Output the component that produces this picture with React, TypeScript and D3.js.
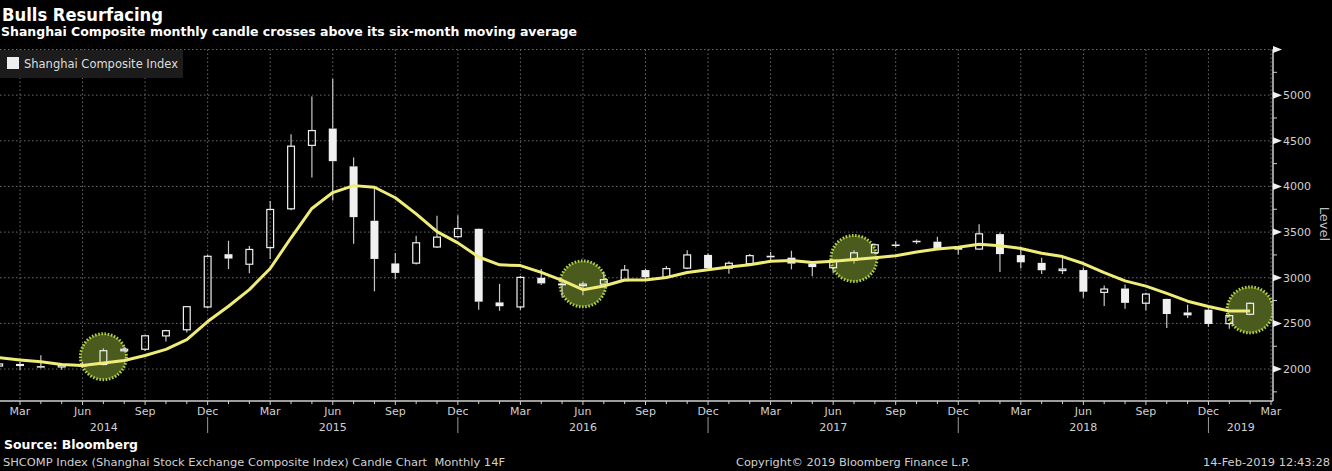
import React from "react";
import * as d3 from "d3";

// Monthly candles, Feb 2014 .. Feb 2019 (index 0 = Feb 2014)
const opens = [2033, 2056, 2032, 2023, 2040, 2050, 2200, 2217, 2363, 2430, 2680,
  3258, 3148, 3330, 3755, 4450, 4634, 4220, 3624, 3157, 3160, 3337, 3450,
  3536, 2730, 2680, 3000, 2937, 2915, 2930, 2968, 3084, 3005, 3105, 3250,
  3105, 3154, 3241, 3220, 3155, 3110, 3193, 3274, 3364, 3405, 3395, 3330,
  3314, 3478, 3248, 3163, 3081, 3084, 2840, 2882, 2721, 2768, 2620, 2650,
  2497, 2600];
const highs = [2070, 2077, 2150, 2061, 2078, 2229, 2248, 2369, 2430, 2683, 3250,
  3406, 3347, 3840, 4572, 4986, 5178, 4318, 4006, 3270, 3459, 3678, 3685,
  3539, 2933, 3018, 3097, 2954, 2960, 3060, 3140, 3100, 3128, 3301, 3265,
  3177, 3260, 3282, 3295, 3168, 3200, 3301, 3375, 3400, 3418, 3450, 3340,
  3587, 3495, 3310, 3220, 3219, 3111, 2915, 2925, 2835, 2771, 2703, 2667,
  2600, 2730];
const lows = [2026, 1990, 2010, 1991, 2010, 2042, 2195, 2197, 2302, 2400, 2667,
  3095, 3050, 3205, 3740, 4099, 3847, 3373, 2851, 2983, 3145, 3327, 3437,
  2650, 2638, 2650, 2920, 2781, 2808, 2923, 2965, 2980, 3000, 3093, 3085,
  3044, 3129, 3193, 3092, 3016, 3050, 3155, 3260, 3330, 3370, 3310, 3254,
  3310, 3062, 3100, 3041, 3041, 2782, 2691, 2660, 2644, 2449, 2560, 2463,
  2440, 2590];
const closes = [2056, 2033, 2026, 2039, 2048, 2201, 2217, 2364, 2420, 2683, 3235,
  3210, 3310, 3748, 4441, 4612, 4277, 3664, 3206, 3053, 3383, 3445, 3539,
  2738, 2688, 3004, 2938, 2917, 2930, 2979, 3085, 3005, 3100, 3250, 3104,
  3159, 3242, 3223, 3155, 3117, 3192, 3273, 3361, 3349, 3393, 3317, 3307,
  3481, 3259, 3169, 3082, 3095, 2847, 2876, 2725, 2821, 2603, 2588, 2494,
  2585, 2720];
// six-month moving average of closes
const movingAvg = [2124, 2100, 2081, 2051, 2039, 2067, 2094, 2149, 2215, 2322, 2520,
  2688, 2870, 3101, 3438, 3759, 3933, 4009, 3991, 3876, 3699, 3505, 3382,
  3227, 3141, 3133, 3059, 2971, 2869, 2909, 2976, 2976, 3003, 3058, 3087,
  3117, 3143, 3180, 3189, 3167, 3181, 3200, 3220, 3241, 3281, 3314, 3333,
  3368, 3351, 3321, 3269, 3232, 3156, 3055, 2966, 2908, 2828, 2743, 2685,
  2636, 2635];
// highlighted crossings: month index and level of circle centre
const crossIdx = [5, 28, 41, 60];
const crossLevel = [2135, 2933, 3211, 2648];

const monthNames = ["Jan", "Feb", "Mar", "Apr", "May", "Jun", "Jul", "Aug", "Sep", "Oct", "Nov", "Dec"];
const yearLabels = ["2014", "2015", "2016", "2017", "2018", "2019"];
const yMajor = [2000, 2500, 3000, 3500, 4000, 4500, 5000, 5500];
const yLabels = [2000, 2500, 3000, 3500, 4000, 4500, 5000];
const yMinor = [1750, 2250, 2750, 3250, 3750, 4250, 4750, 5250];

const W = 1332;
const H = 471;
const PL = 0, PR = 1273, PT = 49.5, PB = 401;
const FONT = "'DejaVu Sans', sans-serif";

export default function App() {
  const x = d3.scaleLinear().domain([0, 61]).range([-0.85, 1271]);
  const y = d3.scaleLinear().domain([1650, 5500]).range([PB, PT]);
  const nMonths = 62;
  const monthIdx = d3.range(nMonths);
  const monthOf = (i: number) => (1 + i) % 12;
  const quarterIdx = monthIdx.filter((i) => [2, 5, 8, 11].includes(monthOf(i)));
  const decIdx = monthIdx.filter((i) => monthOf(i) === 11 && i < 61);
  const bounds = [PL, ...decIdx.map((i) => x(i)), PR];

  const line = d3
    .line<number>()
    .x((_, i) => x(i))
    .y((d) => y(d));

  const bw = 8;
  const grid = "#6a6a6a";

  return (
    <div style={{ position: "fixed", left: 0, top: 0, width: W, height: H, background: "#000" }}>
      <svg width={W} height={H} style={{ display: "block" }}>
        <rect x={0} y={0} width={W} height={H} fill="#000" />
        <defs>
          <clipPath id="plot">
            <rect x={PL} y={PT - 10} width={PR - PL} height={PB - PT + 10} />
          </clipPath>
        </defs>

        {/* Title */}
        <text x={2} y={21} fill="#fff" fontFamily={FONT} fontWeight="bold" fontSize={17} textLength={161} lengthAdjust="spacingAndGlyphs">
          Bulls Resurfacing
        </text>
        <text x={1} y={36} fill="#fff" fontFamily={FONT} fontWeight="bold" fontSize={12} textLength={576} lengthAdjust="spacingAndGlyphs">
          Shanghai Composite monthly candle crosses above its six-month moving average
        </text>

        {/* Grid */}
        {yMajor.map((v) => (
          <line key={"hg" + v} x1={PL} x2={PR} y1={y(v)} y2={y(v)} stroke={grid} strokeDasharray="1.5 2.5" />
        ))}
        {quarterIdx.map((i) => (
          <line key={"vg" + i} x1={x(i)} x2={x(i)} y1={PT} y2={PB} stroke={grid} strokeDasharray="1.5 2.5" />
        ))}

        {/* Legend */}
        <rect x={0} y={50} width={183} height={28} fill="#1e1e1e" opacity={0.92} />
        <rect x={7} y={57} width={12} height={12} fill="#eee" />
        <text x={24} y={68} fill="#ddd" fontFamily={FONT} fontSize={12} textLength={154} lengthAdjust="spacingAndGlyphs">
          Shanghai Composite Index
        </text>

        <g clipPath="url(#plot)">
          {/* Crossing circles */}
          {crossIdx.map((ci, k) => (
            <circle key={"c" + k} cx={x(ci)} cy={y(crossLevel[k])} r={23} fill="#4a5b1d" stroke="#b0cf45" strokeWidth={3} strokeDasharray="1.6 1.6" />
          ))}

          {/* Candles */}
          {opens.map((o, i) => {
            const c = closes[i];
            const up = c >= o;
            const top = y(Math.max(o, c));
            const bot = y(Math.min(o, c));
            const cx = x(i);
            const h = Math.max(bot - top, 1.5);
            return (
              <g key={"k" + i}>
                <line x1={cx} x2={cx} y1={y(highs[i])} y2={top} stroke="#c8c8c8" strokeWidth={1.2} />
                <line x1={cx} x2={cx} y1={top + h} y2={y(lows[i])} stroke="#c8c8c8" strokeWidth={1.2} />
                {up ? (
                  <rect x={cx - bw / 2 + 0.6} y={top} width={bw - 1.2} height={h} fill="none" stroke="#f0f0f0" strokeWidth={1.2} />
                ) : (
                  <rect x={cx - bw / 2} y={top} width={bw} height={h} fill="#f0f0f0" />
                )}
              </g>
            );
          })}

          {/* Moving average */}
          <path d={line(movingAvg) || ""} fill="none" stroke="#f0ec78" strokeWidth={3} strokeLinejoin="round" />
        </g>

        {/* X axis */}
        <line x1={PL} x2={PR} y1={PB} y2={PB} stroke="#d0d0d0" strokeWidth={1.5} />
        {monthIdx.map((i) => (
          <line key={"xt" + i} x1={x(i)} x2={x(i)} y1={PB} y2={PB + (quarterIdx.includes(i) ? 4 : 3)} stroke="#d0d0d0" />
        ))}
        {quarterIdx.map((i) => (
          <text key={"xl" + i} x={x(i)} y={415} textAnchor="middle" fill="#d0d0d0" fontFamily={FONT} fontSize={11}>
            {monthNames[monthOf(i)]}
          </text>
        ))}
        {decIdx.map((i) => (
          <line key={"ys" + i} x1={x(i)} x2={x(i)} y1={417} y2={433} stroke="#9a9a9a" />
        ))}
        {yearLabels.map((yl, k) => (
          <text key={"yl" + yl} x={(bounds[k] + bounds[k + 1]) / 2} y={431} textAnchor="middle" fill="#d0d0d0" fontFamily={FONT} fontSize={11}>
            {yl}
          </text>
        ))}

        {/* Y axis */}
        <line x1={PR} x2={PR} y1={PT} y2={PB} stroke="#d0d0d0" strokeWidth={1.5} />
        {yMajor.map((v) => (
          <path key={"ya" + v} d={`M${PR},${y(v) - 3.5}L${PR + 9},${y(v)}L${PR},${y(v) + 3.5}Z`} fill="#f0f0f0" />
        ))}
        {yMinor.map((v) => (
          <line key={"ym" + v} x1={PR} x2={PR + 4} y1={y(v)} y2={y(v)} stroke="#d0d0d0" />
        ))}
        {yLabels.map((v) => (
          <text key={"yt" + v} x={1283} y={y(v)} dy="0.36em" fill="#d0d0d0" fontFamily={FONT} fontSize={11}>
            {v}
          </text>
        ))}
        <text x={1324} y={224} transform="rotate(90,1324,224)" textAnchor="middle" dominantBaseline="central" fill="#bdbdbd" fontFamily={FONT} fontSize={13}>
          Level
        </text>

        {/* Footer */}
        <text x={4} y={449} fill="#fff" fontFamily={FONT} fontWeight="bold" fontSize={12} textLength={134} lengthAdjust="spacingAndGlyphs">
          Source: Bloomberg
        </text>
        <text x={3} y={466} fill="#d0d0d0" fontFamily={FONT} fontSize={11} textLength={502} lengthAdjust="spacingAndGlyphs" style={{ whiteSpace: "pre" }}>
          {"SHCOMP Index (Shanghai Stock Exchange Composite Index) Candle Chart  Monthly 14F"}
        </text>
        <text x={736} y={466} fill="#d0d0d0" fontFamily={FONT} fontSize={11} textLength={234} lengthAdjust="spacingAndGlyphs">
          Copyright© 2019 Bloomberg Finance L.P.
        </text>
        <text x={1203} y={466} fill="#d0d0d0" fontFamily={FONT} fontSize={11} textLength={127} lengthAdjust="spacingAndGlyphs">
          14-Feb-2019 12:43:28
        </text>
      </svg>
    </div>
  );
}
